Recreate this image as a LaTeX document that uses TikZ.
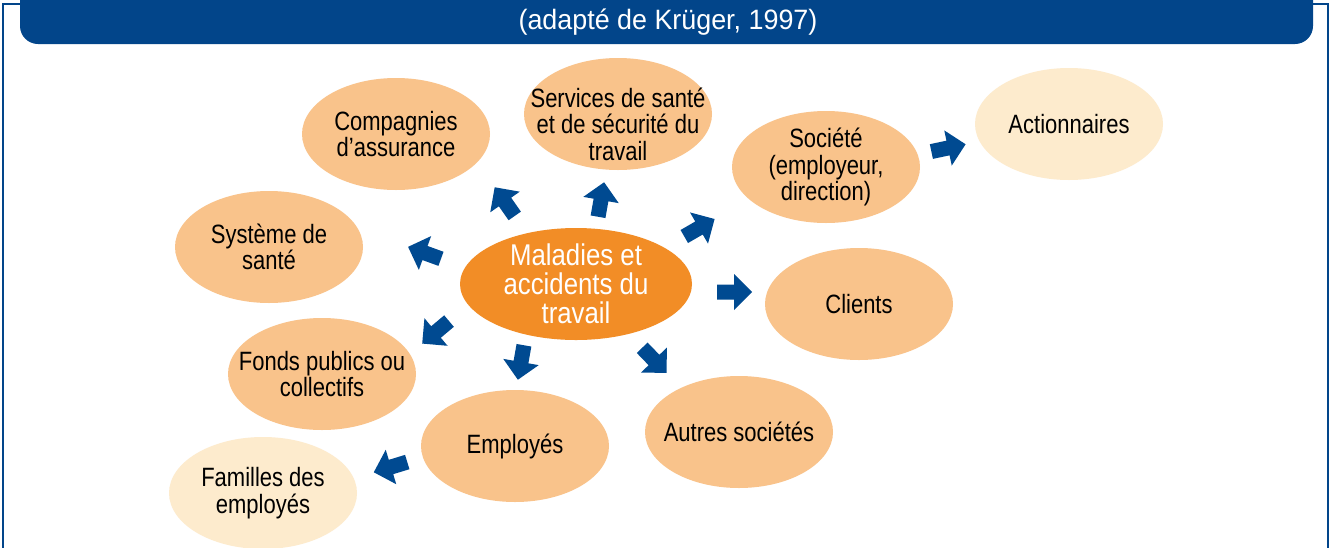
\documentclass[tikz,border=0pt]{standalone}
\usepackage{fontspec}
\setmainfont{Liberation Sans}
\newfontfamily\condfont[FakeStretch=0.83]{Liberation Sans}
\newfontfamily\mainfont[FakeStretch=0.86]{Liberation Sans}
\newfontfamily\headfont[FakeStretch=0.96]{Liberation Sans}
\usetikzlibrary{shapes.geometric}
\definecolor{bandblue}{HTML}{02458A}
\definecolor{arrowblue}{HTML}{004A91}
\definecolor{peach}{HTML}{F9C38B}
\definecolor{lightpeach}{HTML}{FDEBCD}
\definecolor{mainorange}{HTML}{F28D26}
\tikzset{
  bubble/.style={ellipse, fill=peach, draw=none, minimum width=188pt, minimum height=112pt,
    inner xsep=-50pt, inner ysep=-25pt, outer sep=0pt, align=center, text=black,
    font=\condfont\fontsize{26.5}{26.5}\selectfont},
  bubbletext/.style={inner sep=0pt, align=center, text=black,
    font=\condfont\fontsize{26.5}{26.5}\selectfont},
  lightbubble/.style={bubble, fill=lightpeach},
  mainbubble/.style={bubble, fill=mainorange, minimum width=232pt, text=white,
    font=\mainfont\fontsize{30}{29}\selectfont},
  blockarrow/.style={fill=arrowblue, draw=none},
}
\newcommand{\blockarr}[3]{%
  \fill[blockarrow, shift={(#1,#2)}, rotate=#3]
    (-17,-7.5) -- (0,-7.5) -- (0,-18) -- (18,0) -- (0,18) -- (0,7.5) -- (-17,7.5) -- cycle;}
\begin{document}
\begin{tikzpicture}[x=1pt,y=-1pt]
\useasboundingbox (0,0) rectangle (1331,547);
\clip (0,0) rectangle (1331,547);
\fill[white] (0,0) rectangle (1331,547);
% frame
\draw[bandblue, line width=2pt] (3,560) -- (3,4) -- (1328,4) -- (1328,560);
% header band
\fill[bandblue, rounded corners=18pt] (20,-40) rectangle (1313,44);
\node[anchor=base, text=white, font=\headfont\fontsize{28}{30}\selectfont, inner sep=0pt] (title) at (668,29) {(adapté de Krüger, 1997)};
% nodes
\node[mainbubble] (main) at (576,284) {Maladies et\\accidents du\\travail};
\node[bubble] (comp) at (396,134) {Compagnies\\d’assurance};
\node[bubble] (serv) at (618,114) {};
\node[bubbletext] (servtext) at (618,124) {Services de santé\\et de sécurité du\\travail};
\node[bubble] (soc) at (826,167) {Société\\(employeur,\\direction)};
\node[lightbubble] (act) at (1069,124) {Actionnaires};
\node[bubble] (sys) at (269,247) {Système de\\santé};
\node[bubble] (cli) at (859,304) {Clients};
\node[bubble] (fon) at (322,374) {Fonds publics ou\\collectifs};
\node[bubble] (emp) at (515,446) {Employés};
\node[bubble] (aut) at (739,432) {Autres sociétés};
\node[lightbubble] (fam) at (263,493) {Familles des\\employés};
% block arrows
\blockarr{505}{202}{125}
\blockarr{601}{200}{80}
\blockarr{699}{228}{30}
\blockarr{734}{292}{0}
\blockarr{654}{360}{-46}
\blockarr{521}{362}{-100}
\blockarr{436}{332}{-140}
\blockarr{425}{253}{160}
\blockarr{391}{467}{-163}
\blockarr{948}{148}{12}
\end{tikzpicture}
\end{document}
